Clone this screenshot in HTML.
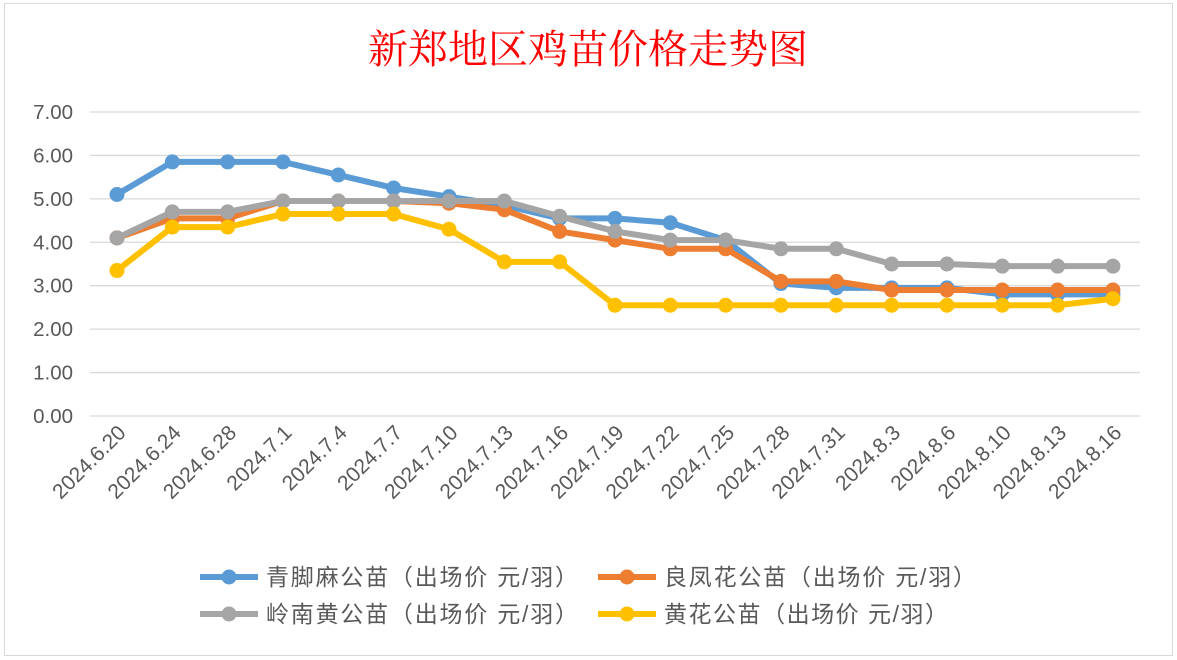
<!DOCTYPE html>
<html><head><meta charset="utf-8"><style>
body{margin:0;background:#fff;}
svg{display:block;font-family:"Liberation Sans","Noto Sans CJK SC",sans-serif;}
</style></head><body>
<svg id="c" width="1177" height="660" xmlns="http://www.w3.org/2000/svg">
<rect x="0" y="0" width="1177" height="660" fill="#fff"/>
<rect x="4.5" y="3.5" width="1168" height="652" fill="#fff" stroke="#d9d9d9"/>
<text x="588" y="63" text-anchor="middle" font-size="40" fill="#ff0000" font-family="'Noto Serif CJK SC','Liberation Serif',serif">新郑地区鸡苗价格走势图</text>
<g id="g"></g>
</svg>
<script>
const g=document.getElementById('g');let s='';
const y0=416,u=43.43,x0=117,dx=55.33;
for(let i=0;i<=7;i++){const y=y0-i*u;s+=`<line x1="90" x2="1140" y1="${y}" y2="${y}" stroke="#d9d9d9" stroke-width="1.3"/>`;
s+=`<text x="73" y="${y+7}" text-anchor="end" font-size="20.5" fill="#595959">${i.toFixed(2)}</text>`;}
const labs=["2024.6.20","2024.6.24","2024.6.28","2024.7.1","2024.7.4","2024.7.7","2024.7.10","2024.7.13","2024.7.16","2024.7.19","2024.7.22","2024.7.25","2024.7.28","2024.7.31","2024.8.3","2024.8.6","2024.8.10","2024.8.13","2024.8.16"];
labs.forEach((l,i)=>{const x=x0+i*dx+10,y=434;s+=`<text transform="translate(${x},${y}) rotate(-45)" text-anchor="end" font-size="21" fill="#595959">${l}</text>`;});
const D=[
["#5b9bd5",[5.1,5.85,5.85,5.85,5.55,5.25,5.05,4.85,4.55,4.55,4.45,4.05,3.05,2.95,2.95,2.95,2.8,2.8,2.8]],
["#ed7d31",[4.1,4.55,4.55,4.95,4.95,4.95,4.9,4.75,4.25,4.05,3.85,3.85,3.1,3.1,2.9,2.9,2.9,2.9,2.9]],
["#a5a5a5",[4.1,4.7,4.7,4.95,4.95,4.95,4.95,4.95,4.6,4.25,4.05,4.05,3.85,3.85,3.5,3.5,3.45,3.45,3.45]],
["#ffc000",[3.35,4.35,4.35,4.65,4.65,4.65,4.3,3.55,3.55,2.55,2.55,2.55,2.55,2.55,2.55,2.55,2.55,2.55,2.7]]];
D.forEach(([c,v])=>{const p=v.map((d,i)=>[x0+i*dx,y0-d*u]);
s+=`<polyline fill="none" stroke="${c}" stroke-width="6" stroke-linejoin="round" points="${p.map(q=>q.join(',')).join(' ')}"/>`;
p.forEach(q=>s+=`<circle cx="${q[0]}" cy="${q[1]}" r="7.5" fill="${c}"/>`);});
const L=[[200,577,"#5b9bd5","青脚麻公苗（出场价 元/羽）",312],[598,577,"#ed7d31","良凤花公苗（出场价 元/羽）",312],[200,614,"#a5a5a5","岭南黄公苗（出场价 元/羽）",312],[598,614,"#ffc000","黄花公苗（出场价 元/羽）",284]];
L.forEach(([x,y,c,t,w])=>{s+=`<line x1="${x}" x2="${x+58}" y1="${y}" y2="${y}" stroke="${c}" stroke-width="6"/><circle cx="${x+29}" cy="${y}" r="7.5" fill="${c}"/><text x="${x+66}" y="${y+8}" font-size="23" textLength="${w}" lengthAdjust="spacing" fill="#595959">${t}</text>`;});
g.innerHTML=s;
</script>
</body></html>
